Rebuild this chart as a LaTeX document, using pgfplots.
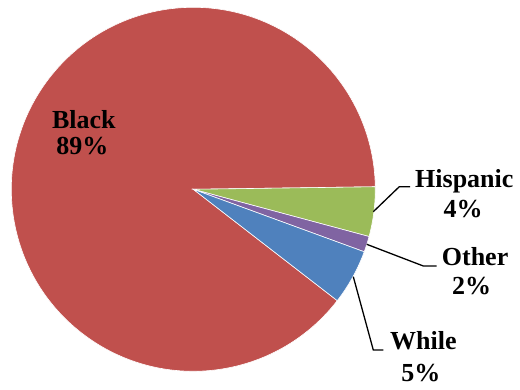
\documentclass[border=0pt]{standalone}
\usepackage{fontspec}
\setmainfont{Liberation Serif}
\usepackage{pgfplots}
\usepackage{pgfplotstable}
\pgfplotsset{compat=1.18}
\definecolor{pieRed}{HTML}{C0504D}
\definecolor{pieGreen}{HTML}{9BBB59}
\definecolor{piePurple}{HTML}{8064A2}
\definecolor{pieBlue}{HTML}{4F81BD}
\pgfplotstableread{
name value
Hispanic 4.4
Other 1.4
While 4.9
Black 89.3
}\piedata
\begin{document}%
\begin{tikzpicture}
\pgfplotstablegetelem{0}{value}\of\piedata \let\vA\pgfplotsretval
\pgfplotstablegetelem{1}{value}\of\piedata \let\vB\pgfplotsretval
\pgfplotstablegetelem{2}{value}\of\piedata \let\vC\pgfplotsretval
\pgfplotstablegetelem{3}{value}\of\piedata \let\vD\pgfplotsretval
\pgfmathsetmacro\aA{0.8}
\pgfmathsetmacro\aB{\aA-3.6*\vA}
\pgfmathsetmacro\aC{\aB-3.6*\vB}
\pgfmathsetmacro\aD{\aC-3.6*\vC}
\pgfmathsetmacro\aE{\aD-3.6*\vD}
\begin{axis}[x=1pt,y=1pt,xmin=0,xmax=520,ymin=0,ymax=390,hide axis,clip=false]
\coordinate (BL) at (axis cs:0,0);
\coordinate (TR) at (axis cs:520,390);
\def\cx{193.3}\def\cy{200.7}
\fill[pieRed,draw=white,line width=0.6pt] (axis cs:\cx,\cy) -- ++(\aD:182pt) arc[start angle=\aD,end angle=\aE,radius=182pt] -- cycle;
\fill[pieGreen,draw=white,line width=0.6pt] (axis cs:\cx,\cy) -- ++(\aA:182pt) arc[start angle=\aA,end angle=\aB,radius=182pt] -- cycle;
\fill[piePurple,draw=white,line width=0.6pt] (axis cs:\cx,\cy) -- ++(\aB:182pt) arc[start angle=\aB,end angle=\aC,radius=182pt] -- cycle;
\fill[pieBlue,draw=white,line width=0.6pt] (axis cs:\cx,\cy) -- ++(\aC:182pt) arc[start angle=\aC,end angle=\aD,radius=182pt] -- cycle;
\draw[line width=1.3pt] (axis cs:373.3,178.3) -- (axis cs:399.3,203.3) -- (axis cs:410,203.3);
\draw[line width=1.3pt] (axis cs:366.7,145.7) -- (axis cs:423.3,124) -- (axis cs:436.7,124);
\draw[line width=1.3pt] (axis cs:353.3,113.3) -- (axis cs:373.3,40) -- (axis cs:383.3,40);
\tikzset{lab/.style={inner sep=0pt,font=\fontsize{26}{30}\selectfont\bfseries}}
\node[lab,anchor=base] at (axis cs:83.8,261.7) {Black};
\node[lab,anchor=base] at (axis cs:82.5,235) {89\%};
\node[lab,anchor=base west] at (axis cs:415,202) {Hispanic};
\node[lab,anchor=base] at (axis cs:463,172) {4\%};
\node[lab,anchor=base west] at (axis cs:441.7,124) {Other};
\node[lab,anchor=base] at (axis cs:471.7,95) {2\%};
\node[lab,anchor=base west] at (axis cs:390,40) {While};
\node[lab,anchor=base] at (axis cs:420.8,8.3) {5\%};
\end{axis}
\pgfresetboundingbox
\path[use as bounding box] (BL) rectangle (TR);
\end{tikzpicture}%
\end{document}
